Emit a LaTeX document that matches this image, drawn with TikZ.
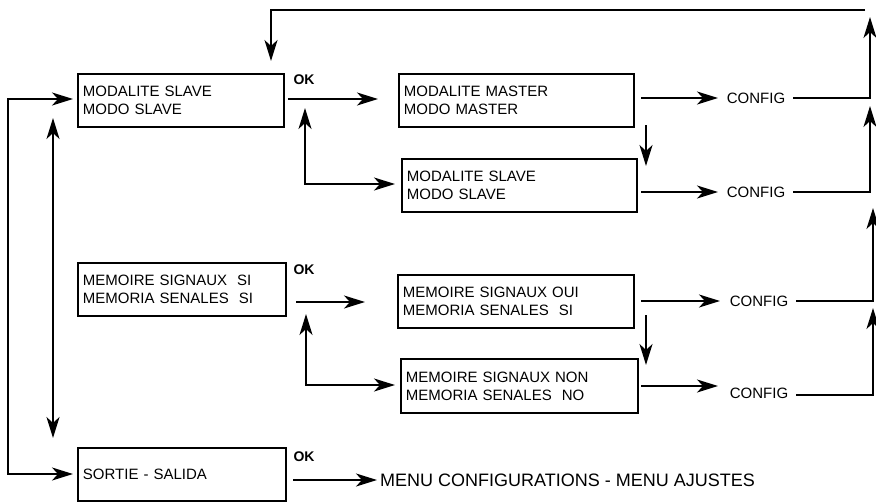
\documentclass[tikz,border=0pt]{standalone}
\usepackage{fontspec}
\setmainfont{Liberation Sans}
\usetikzlibrary{arrows.meta,calc}

\begin{document}
\begin{tikzpicture}[x=1pt,y=-1pt,
  every node/.style={font=\fontsize{15}{18}\selectfont},
  box/.style={draw, line width=1.9pt, anchor=north west, align=left,
    inner xsep=5pt, inner ysep=0pt, minimum height=53pt},
  conn/.style={line width=2pt},
  tip/.tip={Stealth[length=21pt,width=13pt,inset=6pt]},
  arr/.style={conn, -tip},
  darr/.style={conn, tip-tip},
  cfg/.style={inner sep=0pt},
  oklabel/.style={font=\fontsize{14}{16}\selectfont\bfseries, inner sep=0pt}
]
\useasboundingbox (0,0) rectangle (876,501);

% menu boxes
\node[box, text width=196pt] (a) at (77,73) {MODALITE SLAVE\\MODO SLAVE};
\node[box, text width=225pt] (b) at (398,73) {MODALITE MASTER\\MODO MASTER};
\node[box, text width=225pt] (c) at (401,158) {MODALITE SLAVE\\MODO SLAVE};
\node[box, text width=198pt] (d) at (77,262) {MEMOIRE SIGNAUX\ \ SI\\MEMORIA SENALES\ \ SI};
\node[box, text width=226pt] (e) at (397,274) {MEMOIRE SIGNAUX OUI\\MEMORIA SENALES\ \ SI};
\node[box, text width=227pt, minimum height=54pt] (f) at (400,358) {MEMOIRE SIGNAUX NON\\MEMORIA SENALES\ \ NO};
\node[box, text width=198pt] (g) at (77,447) {SORTIE - SALIDA};

% OK labels
\node[oklabel] (ok1) at (304,80) {OK};
\node[oklabel] (ok2) at (304,270) {OK};
\node[oklabel] (ok3) at (304,457) {OK};

% CONFIG labels
\node[cfg] (c1) at (756,98) {CONFIG};
\node[cfg] (c2) at (756,192) {CONFIG};
\node[cfg] (c3) at (759,301) {CONFIG};
\node[cfg] (c4) at (759,393) {CONFIG};

% exit target
\node[cfg, anchor=west, font=\fontsize{18}{20}\selectfont] (menu) at (380,480)
  {MENU CONFIGURATIONS - MENU AJUSTES};

% connector end points
\coordinate (tl1) at (865,10);
\coordinate (tl2) at (271,61);
\coordinate (la) at (73,99);
\coordinate (lb) at (8,474);
\coordinate (lc) at (73,474);
\coordinate (v1) at (53,118);
\coordinate (v2) at (53,438);

\coordinate (o1s) at (288,99);
\coordinate (o1e) at (378,99);
\coordinate (o1u) at (305,108);
\coordinate (o1r) at (395,184);
\coordinate (bd1) at (646,125);
\coordinate (bd2) at (646,166);
\coordinate (bo) at (641,98);
\coordinate (b1) at (718,98);
\coordinate (co) at (641,192);
\coordinate (c2i) at (718,192);

\coordinate (o2s) at (296,302);
\coordinate (o2e) at (365,302);
\coordinate (o2u) at (306,314);
\coordinate (o2r) at (395,385);
\coordinate (ed1) at (646,315);
\coordinate (ed2) at (646,365);
\coordinate (eo) at (641,301);
\coordinate (c3i) at (720,301);
\coordinate (fo) at (641,386);
\coordinate (c4i) at (718,386);

\coordinate (o3s) at (293,480);
\coordinate (o3e) at (377,480);

\coordinate (r1) at (870,17);
\coordinate (r2) at (870,106);
\coordinate (r3) at (873,208);
\coordinate (r4) at (873,308);

% return loop to the first menu
\draw[arr] (tl1) -| (tl2);
\draw[darr] (la) -| (lb) -- (lc);
\draw[darr] (v1) -- (v2);

% master / slave section
\draw[arr] (o1s) -- (o1e);
\draw[darr] (o1u) |- (o1r);
\draw[arr] (bd1) -- (bd2);
\draw[arr] (bo) -- (b1);
\draw[arr] (co) -- (c2i);

% signal memory section
\draw[arr] (o2s) -- (o2e);
\draw[darr] (o2u) |- (o2r);
\draw[arr] (ed1) -- (ed2);
\draw[arr] (eo) -- (c3i);
\draw[arr] (fo) -- (c4i);

% exit
\draw[arr] (o3s) -- (o3e);

% CONFIG returns
\draw[arr] ($(c1.east)+(8,0)$) -| (r1);
\draw[arr] ($(c2.east)+(8,0)$) -| (r2);
\draw[arr] ($(c3.east)+(8,0)$) -| (r3);
\draw[arr] ($(c4.east)+(8,2)$) -| (r4);
\end{tikzpicture}
\end{document}
